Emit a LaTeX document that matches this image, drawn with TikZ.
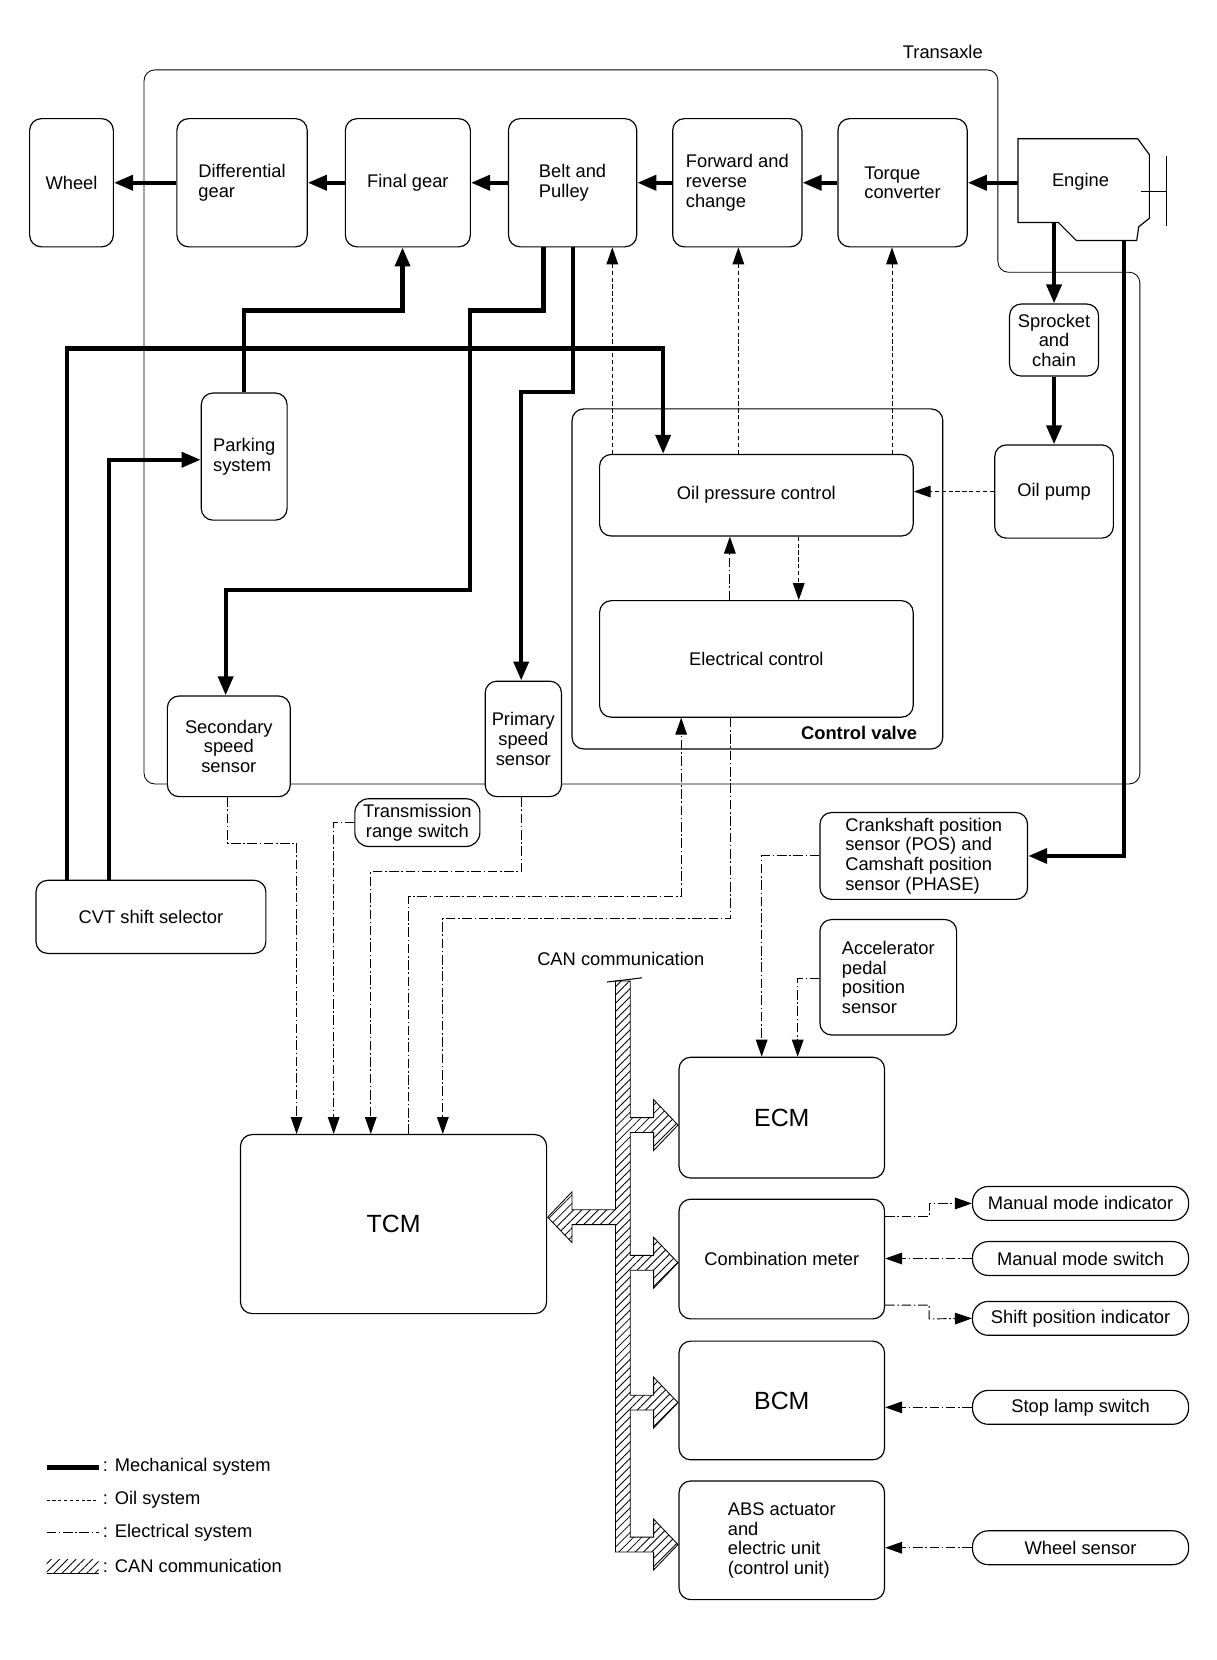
\documentclass[tikz,border=0pt]{standalone}
\usepackage{fontspec}
\setmainfont{Liberation Sans}
\usetikzlibrary{arrows.meta,patterns.meta}
\newcommand\myfs{\fontsize{17.3}{18.5}\selectfont}
\newcommand\mybig{\fontsize{23.5}{26}\selectfont}
\begin{document}
\begin{tikzpicture}[x=1pt,y=-1pt,
 box/.style={draw,line width=1.1pt,rounded corners=11pt,fill=white,align=center,inner sep=0pt,font=\myfs},
 lbox/.style={box,align=left},
 pill/.style={box,rounded corners=15pt},
 mech/.style={line width=4pt,-{Triangle[length=18pt,width=14pt]}},
 mechl/.style={line width=4pt},
 oil/.style={line width=0.9pt,dash pattern=on 4pt off 2.5pt,-{Triangle[length=16pt,width=11pt]}},
 elec/.style={line width=0.9pt,dash pattern=on 9pt off 2.5pt on 1.5pt off 2.5pt,-{Triangle[length=16pt,width=11pt]}},
 txt/.style={font=\myfs,inner sep=0pt},
 hatch/.style={pattern={Lines[angle=45,distance=5.5pt,line width=0.8pt]}},
]
\useasboundingbox (0,0) rectangle (1148,1567);
\fill[white] (0,0) rectangle (1148,1567);

% Transaxle outline
\draw[line width=0.8pt,rounded corners=10pt] (136,740) -- (136,66) -- (942,66) -- (942,257) -- (1076,257) -- (1076,740) -- cycle;
\node[txt] (transaxle) at (890,49) {Transaxle};

% Control valve
\node[draw,line width=1.1pt,rounded corners=11pt,minimum width=350pt,minimum height=321pt] (cv) at (715,546.5) {};
\node[txt,font=\myfs\bfseries] (cvlabel) at (811,692) {Control valve};

% Top row
\node[box,minimum width=79pt,minimum height=121pt] (wheel) at (67.5,172.5) {Wheel};
\node[lbox,minimum width=123pt,minimum height=121pt] (diff) at (228.5,172.5) {Differential\\gear};
\node[box,minimum width=118pt,minimum height=121pt] (final) at (385,172.5) {Final gear};
\node[lbox,minimum width=121pt,minimum height=121pt] (belt) at (540.5,172.5) {Belt and\\Pulley};
\node[lbox,minimum width=122pt,minimum height=121pt] (fwd) at (696,172.5) {Forward and\\reverse\\change};
\node[lbox,minimum width=122pt,minimum height=121pt] (torque) at (852,172.5) {Torque\\converter};

% Engine
\draw[line width=1.1pt,fill=white] (961,131) -- (1074,131) -- (1085,146) -- (1085,206) -- (1075,214) -- (1073,227) -- (1016,227) -- (999,210) -- (961,210) -- cycle;
\node[txt] (engine) at (1020,172) {Engine};
\draw[line width=1pt] (1077,181) -- (1101,181);
\draw[line width=1pt] (1101,147) -- (1101,213);
\coordinate (engW) at (961,172.5);
\coordinate (engS1) at (995,210);
\coordinate (engS2) at (1061,227);

\node[box,minimum width=84pt,minimum height=68pt] (sprocket) at (995,321) {Sprocket\\and\\chain};
\node[box,minimum width=112pt,minimum height=88pt] (oilpump) at (995,464) {Oil pump};
\node[box,minimum width=296pt,minimum height=77pt] (opc) at (714,467.5) {Oil pressure control};
\node[box,minimum width=296pt,minimum height=110pt] (ec) at (714,622) {Electrical control};
\node[lbox,minimum width=81pt,minimum height=120pt] (parking) at (230.5,431) {Parking\\system};
\node[box,minimum width=116pt,minimum height=95pt] (secondary) at (216,704.5) {Secondary\\speed\\sensor};
\node[box,minimum width=72pt,minimum height=109pt] (primary) at (494,697.5) {Primary\\speed\\sensor};
\node[box,rounded corners=13pt,minimum width=118pt,minimum height=45pt] (trs) at (394,776.5) {Transmission\\range switch};
\node[box,minimum width=217pt,minimum height=69pt] (cvt) at (142.5,865.5) {CVT shift selector};
\node[lbox,minimum width=196pt,minimum height=82pt] (crank) at (872,808) {Crankshaft position\\sensor (POS) and\\Camshaft position\\sensor (PHASE)};
\node[lbox,minimum width=129pt,minimum height=109pt] (accel) at (838.5,922.5) {Accelerator\\pedal\\position\\sensor};

\node[box,minimum width=289pt,minimum height=169pt,font=\mybig] (tcm) at (371.5,1155.5) {TCM};
\node[box,minimum width=194pt,minimum height=114pt,font=\mybig] (ecm) at (738,1055) {ECM};
\node[box,minimum width=194pt,minimum height=113pt] (combo) at (738,1188.5) {Combination meter};
\node[box,minimum width=194pt,minimum height=112pt,font=\mybig] (bcm) at (738,1322) {BCM};
\node[lbox,minimum width=194pt,minimum height=112pt] (abs) at (738,1454) {ABS actuator\\and\\electric unit\\(control unit)};

\node[pill,minimum width=204pt,minimum height=32pt] (mmi) at (1020,1136) {Manual mode indicator};
\node[pill,minimum width=204pt,minimum height=32pt] (mms) at (1020,1188) {Manual mode switch};
\node[pill,minimum width=204pt,minimum height=32pt] (spi) at (1020,1244.5) {Shift position indicator};
\node[pill,minimum width=204pt,minimum height=32pt] (sls) at (1020,1328.5) {Stop lamp switch};
\node[pill,minimum width=204pt,minimum height=32pt] (ws) at (1020,1461) {Wheel sensor};

% Mechanical connectors
\draw[mech] (engW) -- (torque.east);
\draw[mech] (torque.west) -- (fwd.east);
\draw[mech] (fwd.west) -- (belt.east);
\draw[mech] (belt.west) -- (final.east);
\draw[mech] (final.west) -- (diff.east);
\draw[mech] (diff.west) -- (wheel.east);
\draw[mech] (engS1) -- (sprocket.north);
\draw[mech] (sprocket.south) -- (oilpump.north);
\draw[mech] (engS2) -- (1061,808) -- (crank.east);
\draw[mech] (513,0 |- belt.south) -- (513,293) -- (444,293) -- (444,557) -- (213,557) -- (213,0 |- secondary.north);
\draw[mech] (541,0 |- belt.south) -- (541,370) -- (492,370) -- (492,0 |- primary.north);
\draw[mech] (230,0 |- parking.north) -- (230,293) -- (380,293) -- (380,0 |- final.south);
\draw[mech] (63,0 |- cvt.north) -- (63,329) -- (626,329) -- (626,0 |- opc.north);
\draw[mech] (103,0 |- cvt.north) -- (103,434) -- (parking.west |- 0,434);

% Oil connectors
\draw[oil] (578,0 |- opc.north) -- (578,0 |- belt.south);
\draw[oil] (697,0 |- opc.north) -- (697,0 |- fwd.south);
\draw[oil] (842,0 |- opc.north) -- (842,0 |- torque.south);
\draw[oil] (oilpump.west) -- (opc.east |- oilpump.west);
\draw[oil] (754,0 |- opc.south) -- (754,0 |- ec.north);

% Electrical connectors
\draw[elec] (689,0 |- ec.north) -- (689,0 |- opc.south);
\draw[elec] (215,0 |- secondary.south) -- (215,796) -- (280,796) -- (280,0 |- tcm.north);
\draw[elec] (trs.west) -- (315,0 |- trs.west) -- (315,0 |- tcm.north);
\draw[elec] (492,0 |- primary.south) -- (492,823) -- (350,823) -- (350,0 |- tcm.north);
\draw[elec] (386,0 |- tcm.north) -- (386,846) -- (643,846) -- (643,0 |- ec.south);
\draw[elec] (690,0 |- ec.south) -- (690,867) -- (418,867) -- (418,0 |- tcm.north);
\draw[elec] (crank.west) -- (719,808) -- (719,0 |- ecm.north);
\draw[elec] (accel.west |- 0,924) -- (753,924) -- (753,0 |- ecm.north);
\draw[elec] (combo.east |- 0,1148) -- (877,1148) -- (877,1136) -- (mmi.west);
\draw[elec] (mms.west) -- (combo.east |- mms.west);
\draw[elec] (combo.east |- 0,1232) -- (877,1232) -- (877,1245) -- (spi.west);
\draw[elec] (sls.west) -- (bcm.east |- sls.west);
\draw[elec] (ws.west) -- (abs.east |- ws.west);

% CAN bus
\node[txt] (canlabel) at (586,905) {CAN communication};
\draw[line width=0.8pt,hatch]
 (581,926) -- (595,926) -- (595,1055) -- (617,1055) -- (617,1038) -- (640,1062) -- (617,1086) -- (617,1069) -- (595,1069)
 -- (595,1185) -- (617,1185) -- (617,1168) -- (640,1192) -- (617,1216) -- (617,1199) -- (595,1199)
 -- (595,1317) -- (617,1317) -- (617,1300) -- (640,1324) -- (617,1348) -- (617,1331) -- (595,1331)
 -- (595,1451) -- (617,1451) -- (617,1434) -- (640,1458) -- (617,1482) -- (617,1465) -- (581,1465)
 -- (581,1156) -- (540,1156) -- (540,1173) -- (517,1149) -- (540,1125) -- (540,1142) -- (581,1142) -- cycle;
\draw[line width=1pt] (573,927) -- (590,925) -- (606,923);

% Legend
\draw[line width=4.5pt] (44,1385) -- (93,1385);
\node[txt,anchor=west] (lg1) at (97,1385) {: Mechanical system};
\draw[line width=0.9pt,dash pattern=on 3pt off 2.5pt] (44,1416) -- (93,1416);
\node[txt,anchor=west] (lg2) at (97,1416) {: Oil system};
\draw[line width=0.9pt,dash pattern=on 9pt off 2.5pt on 1.5pt off 2.5pt] (44,1447) -- (93,1447);
\node[txt,anchor=west] (lg3) at (97,1447) {: Electrical system};
\fill[hatch] (44,1472) rectangle (93,1485);
\draw[line width=0.8pt] (44,1485) -- (93,1485);
\node[txt,anchor=west] (lg4) at (97,1478) {: CAN communication};
\end{tikzpicture}
\end{document}
